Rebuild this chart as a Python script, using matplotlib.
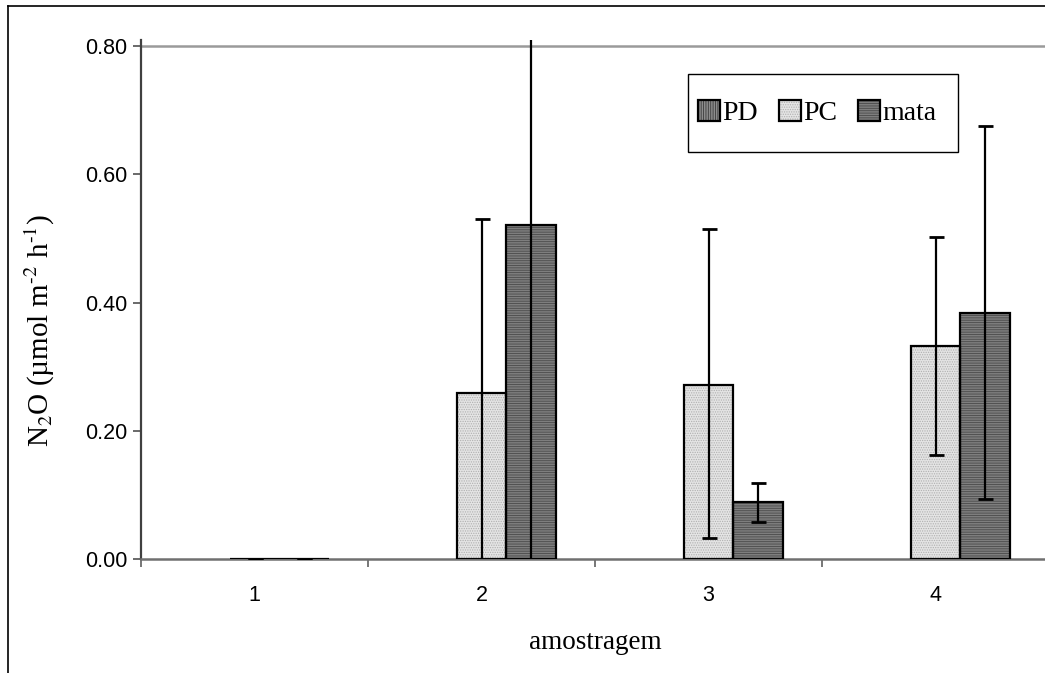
import numpy as np
import matplotlib
matplotlib.use("Agg")
import matplotlib.pyplot as plt
from matplotlib.patches import Patch, Rectangle
from matplotlib.lines import Line2D
from matplotlib.legend_handler import HandlerTuple

# N2O fluxes per sampling campaign (PD has no data)
samples = ["1", "2", "3", "4"]
series = ["PD", "PC", "mata"]
pd_vals = [np.nan, np.nan, np.nan, np.nan]
pc_vals = [0.0, 0.259, 0.271, 0.332]
pc_low = [0.0, -0.02, 0.032, 0.162]
pc_high = [0.0, 0.530, 0.514, 0.502]
mata_vals = [0.0, 0.521, 0.089, 0.384]
mata_low = [0.0, -0.02, 0.057, 0.093]
mata_high = [0.0, 1.05, 0.118, 0.675]
yticks = [0.0, 0.2, 0.4, 0.6, 0.8]

plt.rcParams["hatch.linewidth"] = 0.6
SERIF = ["Liberation Serif", "DejaVu Serif"]
SANS = ["Liberation Sans", "DejaVu Sans"]
plt.rcParams["mathtext.fontset"] = "stix"

STY = {"PD": dict(fc="#8c8c8c", hc="#3a3a3a", hatch="|" * 7),
       "PC": dict(fc="#e4e4e4", hc="#b0b0b0", hatch="." * 7),
       "mata": dict(fc="#7e7e7e", hc="#4a4a4a", hatch="-" * 7)}

W, H = 1045, 673
fig = plt.figure(figsize=(W / 100, H / 100), dpi=100)
ax = fig.add_axes([141 / W, 1 - 559 / H, 908 / W, (559 - 40) / H])

x = np.arange(1, len(samples) + 1)
bw = 0.22
data = {"PD": (pd_vals, None, None), "PC": (pc_vals, pc_low, pc_high),
        "mata": (mata_vals, mata_low, mata_high)}
handles = []
for i, s in enumerate(series):
    vals, lo, hi = data[s]
    v = np.asarray(vals, float)
    xs = x + (i - 1) * bw
    ok = np.isfinite(v)
    st = STY[s]
    if ok.any():
        ax.bar(xs[ok], v[ok], bw, color=st["fc"], edgecolor=st["hc"], hatch=st["hatch"], lw=0, zorder=2)
        ax.bar(xs[ok], v[ok], bw, fill=False, edgecolor="black", lw=1.6, zorder=3)
        lo_a = np.asarray(lo, float); hi_a = np.asarray(hi, float)
        ax.errorbar(xs[ok], v[ok], yerr=[v[ok] - lo_a[ok], hi_a[ok] - v[ok]], fmt="none",
                    ecolor="black", elinewidth=1.6, capsize=5.4, capthick=2.0, zorder=4)
    hf = Patch(facecolor=st["fc"], edgecolor=st["hc"], hatch=st["hatch"], lw=0)
    he = Patch(fill=False, edgecolor="black", lw=1.6)
    handles.append((hf, he))

ax.set_xlim(0.5, 4.5)
ax.set_ylim(0, 0.8094)
ax.axhline(0.8, color="#9a9a9a", lw=1.8, zorder=1)
ax.set_yticks(yticks)
ax.set_yticklabels([f"{t:.2f}" for t in yticks], fontsize=15.5, family=SANS)
ax.set_xticks(x)
ax.set_xticklabels(samples, fontsize=15.5, family=SANS)
ax.set_xticks(np.arange(0.5, 4.6, 1.0), minor=True)
ax.tick_params(axis="x", which="major", length=0, pad=19)
ax.tick_params(axis="x", which="minor", length=6, width=1.2, color="#606060", direction="out")
ax.tick_params(axis="y", length=6, width=1.2, color="#505050", pad=4)
for sp in ("top", "right"):
    ax.spines[sp].set_visible(False)
ax.spines["left"].set_color("#404040"); ax.spines["left"].set_linewidth(1.6)
ax.spines["bottom"].set_color("#707070"); ax.spines["bottom"].set_linewidth(1.8)

ax.set_xlabel("amostragem", fontsize=19.5, family=SERIF)
ax.xaxis.set_label_coords(0.5, -0.136)
ax.set_ylabel("N$_2$O (µmol m$^{\u20102}$ h$^{\u20101}$)", fontsize=21, family=SERIF)
ax.yaxis.set_label_coords(-0.093, 0.44)

# legend box drawn separately so the padding matches
ax.add_patch(Rectangle(((688 - 141) / 908, (559 - 152) / 519), 270 / 908, 78 / 519,
                       transform=ax.transAxes, fill=True, facecolor="white", edgecolor="black",
                       lw=1.0, zorder=5, clip_on=False))
leg = ax.legend(handles, series, ncol=3, loc="center left", frameon=False,
                bbox_to_anchor=((698 - 141) / 908, (559 - 113) / 519), borderaxespad=0, borderpad=0,
                prop={"family": SERIF, "size": 20}, handlelength=0.8, handleheight=0.8,
                handletextpad=0.08, columnspacing=0.75,
                handler_map={tuple: HandlerTuple(ndivide=1)})
leg.set_zorder(6)

# outer chart frame (right and bottom run off the image)
fig.add_artist(Line2D([8 / W, 8 / W], [1 - 6 / H, 0], color="black", lw=1.2))
fig.add_artist(Line2D([8 / W, 1], [1 - 6 / H, 1 - 6 / H], color="black", lw=1.2))

fig.savefig("out.png", dpi=100)
